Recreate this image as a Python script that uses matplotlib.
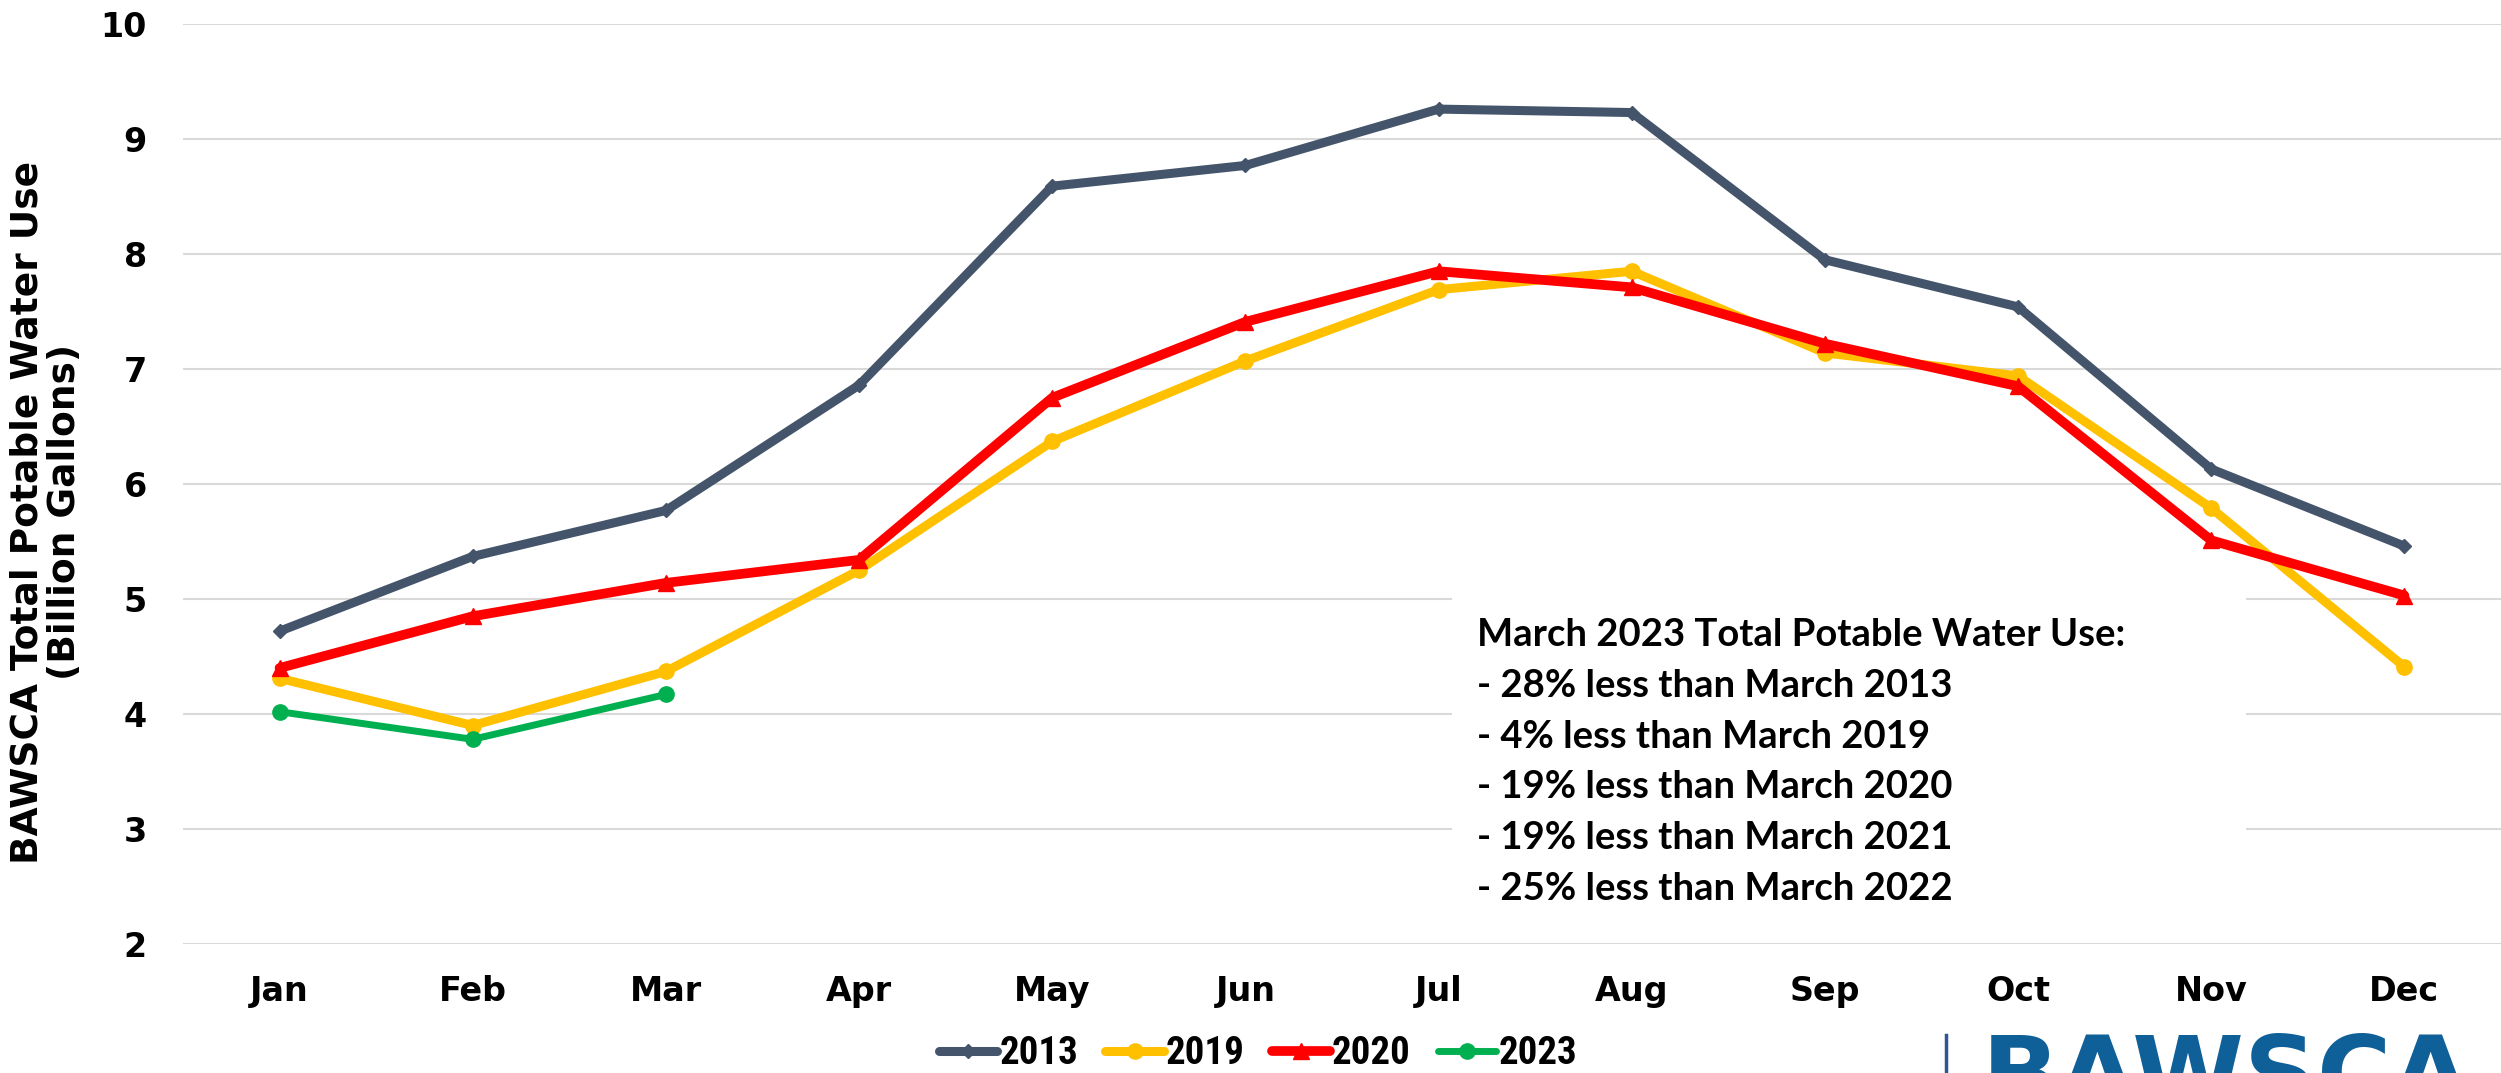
import numpy as np
import matplotlib
matplotlib.use('Agg')
import matplotlib.pyplot as plt
from matplotlib import font_manager
from matplotlib.font_manager import FontProperties
from matplotlib.patches import Rectangle
from matplotlib.lines import Line2D

#monthly potable water use, billion gallons
months = ['Jan', 'Feb', 'Mar', 'Apr', 'May', 'Jun',
          'Jul', 'Aug', 'Sep', 'Oct', 'Nov', 'Dec']
use_2013 = [4.72, 5.37, 5.77, 6.86, 8.59, 8.77, 9.26, 9.23, 7.95, 7.54, 6.13, 5.46]
use_2019 = [4.31, 3.90, 4.37, 5.25, 6.37, 7.07, 7.69, 7.85, 7.14, 6.94, 5.79, 4.41]
use_2020 = [4.40, 4.85, 5.14, 5.34, 6.75, 7.41, 7.85, 7.71, 7.22, 6.85, 5.51, 5.03]
use_2023 = [4.02, 3.78, 4.17]

note_lines = ['March 2023 Total Potable Water Use:',
              '- 28% less than March 2013',
              '- 4% less than March 2019',
              '- 19% less than March 2020',
              '- 19% less than March 2021',
              '- 25% less than March 2022']

#pick fonts that are actually installed
fonts = {f.name for f in font_manager.fontManager.ttflist}
body_font = 'Lato' if 'Lato' in fonts else 'DejaVu Sans'

#narrow bold font for the legend, search by file name
legend_prop = FontProperties(family='DejaVu Sans', weight='bold', size=22)
files = [f.fname for f in font_manager.fontManager.ttflist]
for key, size in [('LiberationSansNarrow-Bold.', 31), ('RobotoCondensed-Bold.', 28),
                  ('DejaVuSansCondensed-Bold.', 24)]:
    hits = [p for p in files if key in p.replace(' ', '')]
    if hits:
        legend_prop = FontProperties(fname=hits[0], size=size)
        break

W, H = 2501, 1073
fig = plt.figure(figsize=(W / 100, H / 100), dpi=100)
ax = fig.add_axes([183 / W, 1 - 944 / H, 1 - 183 / W, (944 - 24) / H])

x = np.arange(len(months))
style = dict(solid_joinstyle='round', solid_capstyle='round')
ax.plot(x, use_2013, color='#44546A', lw=6.5, marker='D', ms=7, label='2013', zorder=3, **style)
ax.plot(x, use_2019, color='#FFC000', lw=6.5, marker='o', ms=11, label='2019', zorder=4, **style)
ax.plot(x, use_2020, color='#FF0000', lw=7, marker='^', ms=11, label='2020', zorder=5, **style)
ax.plot(x[:len(use_2023)], use_2023, color='#00B050', lw=5, marker='o', ms=11,
        label='2023', zorder=6, **style)

ax.set_xlim(-0.5, len(months) - 0.5)
ax.set_ylim(2, 10)
ax.set_yticks(range(2, 11))
ax.set_xticks(x)
ax.set_xticklabels(months)
ax.grid(axis='y', color='#D9D9D9', lw=1.5)
ax.set_axisbelow(True)
for s in ax.spines.values():
    s.set_visible(False)
ax.tick_params(axis='y', length=0, labelsize=24, pad=26)
ax.tick_params(axis='x', length=0, labelsize=24, pad=22)
for lab in ax.get_xticklabels() + ax.get_yticklabels():
    lab.set_fontweight('bold')

#white panel behind the note
ax.add_patch(Rectangle((6.07, 2.02), 4.11, 3.43, facecolor='white', edgecolor='none', zorder=1))
for i, line in enumerate(note_lines):
    fig.text(1477 / W, 1 - (646 + i * 50.8) / H, line, fontsize=27.5, fontweight='bold',
             family=body_font, va='baseline', ha='left')

fig.text(46 / W, 1 - 512 / H, 'BAWSCA Total Potable Water Use\n(Billion Gallons)',
         rotation=90, ha='center', va='center', multialignment='center',
         fontsize=27, fontweight='bold', linespacing=1.05)

fig.legend(loc='center', bbox_to_anchor=(1258 / W, 1 - 1054 / H), ncol=4, frameon=False,
           prop=legend_prop, handlelength=1.5, handletextpad=0.05, columnspacing=0.7,
           borderpad=0)

#logo, cut off by the bottom edge
fig.add_artist(Line2D([1946 / W] * 2, [0, 1 - 1035 / H], color='#2F5597', lw=2.5))
fig.text(1982 / W, -36 / H, 'BAWSCA', fontsize=73, fontweight='bold', color='#0F5F98',
         va='baseline', ha='left')

fig.savefig('out.png', dpi=100)
